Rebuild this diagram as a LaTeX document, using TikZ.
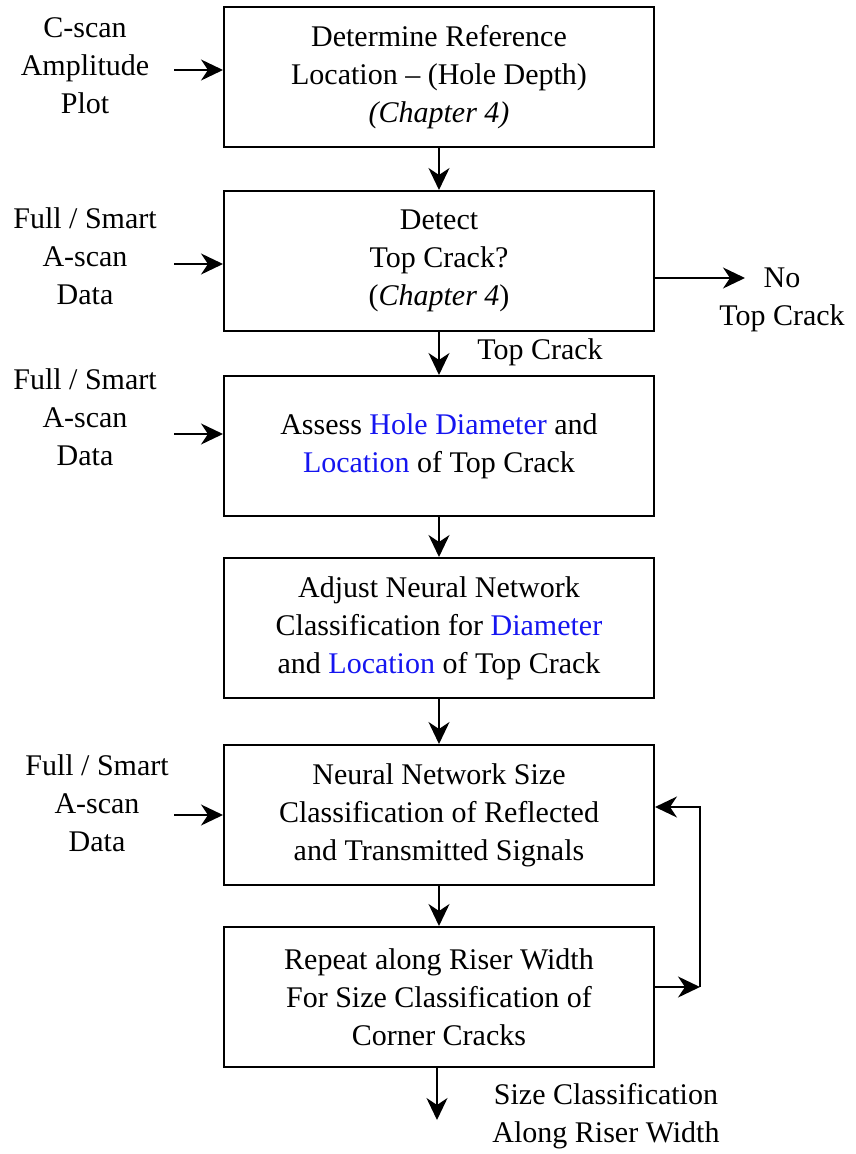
\documentclass[tikz,border=0pt]{standalone}
\usepackage{fontspec}
\setmainfont{Liberation Serif}
\usepackage{xcolor}
\usetikzlibrary{positioning,arrows.meta}
\definecolor{kwblue}{HTML}{1515F0}

\begin{document}
\begin{tikzpicture}[x=1pt,y=1pt,
  box/.style={draw,line width=2pt,minimum width=430pt,minimum height=140pt,
              align=center,font=\fontsize{30}{38}\selectfont},
  lbl/.style={align=center,font=\fontsize{30}{38}\selectfont},
  a/.style={-{Stealth[length=22pt,width=21pt,inset=7pt]},line width=2pt}]
\useasboundingbox (0,0) rectangle (855,-1154);
\node[box] (det) at (439,-77) {Determine Reference\\Location -- (Hole Depth)\\\textit{(Chapter 4)}};
\node[box,below=42pt of det] (top) {Detect\\Top Crack?\\(\textit{Chapter 4})};
\node[box,below=43pt of top] (hole) {Assess \textcolor{kwblue}{Hole Diameter} and\\\textcolor{kwblue}{Location} of Top Crack};
\node[box,below=40pt of hole] (adj) {Adjust Neural Network\\Classification for \textcolor{kwblue}{Diameter}\\and \textcolor{kwblue}{Location} of Top Crack};
\node[box,below=45pt of adj] (nn) {Neural Network Size\\Classification of Reflected\\and Transmitted Signals};
\node[box,below=40pt of nn] (rep) {Repeat along Riser Width\\For Size Classification of\\Corner Cracks};
% inputs on the left
\node[lbl] (cscan) at (85,-66) {C-scan\\Amplitude\\Plot};
\node[lbl] (ascA) at (85,-256) {Full / Smart\\A-scan\\Data};
\node[lbl] (ascB) at (85,-417) {Full / Smart\\A-scan\\Data};
\node[lbl] (ascC) at (97,-803) {Full / Smart\\A-scan\\Data};
\draw[a] ([xshift=-49pt,yshift=7pt]det.west) -- ([yshift=7pt]det.west);
\draw[a] ([xshift=-49pt,yshift=-3pt]top.west) -- ([yshift=-3pt]top.west);
\draw[a] ([xshift=-49pt,yshift=12pt]hole.west) -- ([yshift=12pt]hole.west);
\draw[a] ([xshift=-49pt]nn.west) -- (nn.west);
% main flow
\draw[a] (det) -- (top);
\draw[a] (top) -- (hole);
\draw[a] (hole) -- (adj);
\draw[a] (adj) -- (nn);
\draw[a] (nn) -- (rep);
\node[lbl] (yes) at (540,-352) {Top Crack};
\node[lbl] (no) at (782,-300) {No\\Top Crack};
\coordinate (noend) at (745,-278);
\draw[a] (top.east |- noend) -- (noend);
% loop back
\coordinate (loop) at (700,-987);
\draw[a] (rep.east |- loop) -- (loop);
\draw[a,line width=1.6pt] (loop) -- (700,-807) -- (nn.east |- 0,-807);
% result
\node[lbl] (res) at (606,-1116) {Size Classification\\Along Riser Width};
\coordinate (out) at (437,-1120);
\draw[a] (rep.south -| out) -- (out);
\end{tikzpicture}
\end{document}
